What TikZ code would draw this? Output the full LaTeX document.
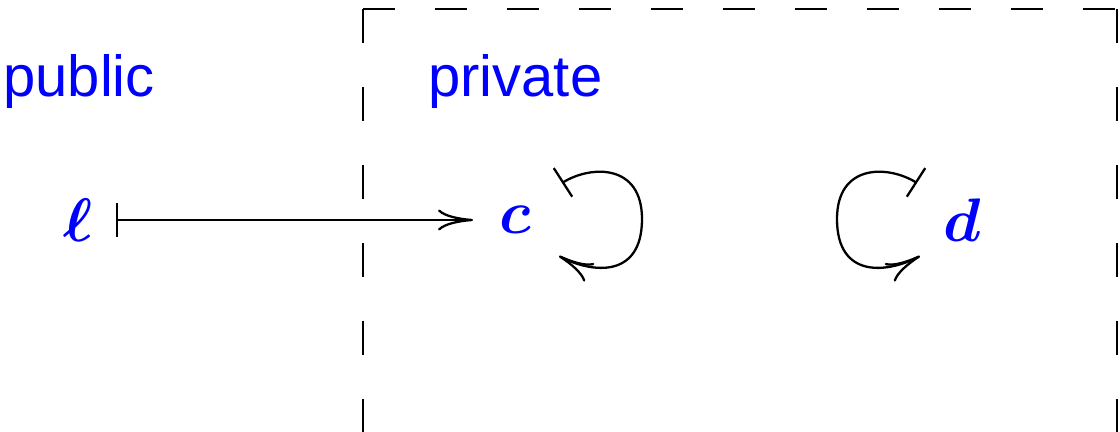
\documentclass[tikz,border=0pt]{standalone}
\usepackage{fontspec}
\setmainfont{Liberation Sans}
\usepackage{amsmath}
\usetikzlibrary{arrows.meta,bending}
\definecolor{pureblue}{RGB}{0,0,255}
\tikzset{
  lbl/.style={text=pureblue, inner sep=0pt, anchor=base west, font=\fontsize{33}{40}\selectfont},
  obj/.style={text=pureblue, inner sep=0pt, scale=3.5},
  conn/.style={line width=1.3pt, {Bar[width=0.68cm,line width=1.3pt]}-{Computer Modern Rightarrow[length=0.7cm,width=0.42cm,line width=1.3pt]}},
  vdash/.style={line width=1.3pt, dash pattern=on 0.68cm off 0.88cm},
  hdash/.style={line width=1.3pt, dash pattern=on 0.64cm off 0.8cm}
}
\begin{document}
\begin{tikzpicture}[x=0.02cm,y=-0.02cm]
\useasboundingbox (0,0) rectangle (1120,432);
% dashed box
\draw[hdash] (363,9) -- (1117,9);
\draw[vdash] (363,9) -- (363,432);
\draw[vdash] (1117,9) -- (1117,432);
% labels
\node[lbl] (pub) at (3,97) {public};
\node[lbl] (priv) at (428,97) {private};
% objects
\node[obj] (l) at (78,220) {$\boldsymbol{\ell}$};
\node[obj] (c) at (515,220) {$\boldsymbol{c}$};
\node[obj] (d) at (962,220) {$\boldsymbol{d}$};
% arrow l -> c
\draw[conn, shorten <=0.44cm, shorten >=0.5cm] (l.east) -- (c.west);
% loops
\coordinate (cs) at (562,183);
\coordinate (ce) at (559,256);
\coordinate (ds) at (917,183);
\coordinate (de) at (920,256);
\draw[conn] (cs) .. controls (590,165) and (642,163) .. (642,219)
  .. controls (642,280) and (590,273) .. (ce);
\draw[conn] (ds) .. controls (889,165) and (837,163) .. (837,219)
  .. controls (837,280) and (889,273) .. (de);
\end{tikzpicture}
\end{document}
